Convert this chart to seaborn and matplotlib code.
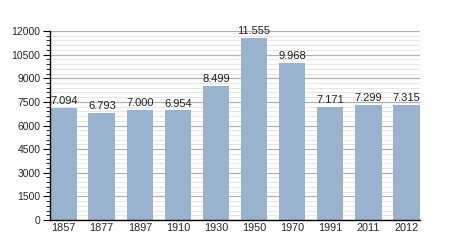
import matplotlib
matplotlib.use("Agg")
import matplotlib.pyplot as plt
from matplotlib.ticker import MultipleLocator
import seaborn as sns
import pandas as pd

years = ["1857", "1877", "1897", "1910", "1930", "1950", "1970", "1991", "2011", "2012"]
population = [7094, 6793, 7000, 6954, 8499, 11555, 9968, 7171, 7299, 7315]
labels = ["7.094", "6.793", "7.000", "6.954", "8.499", "11.555", "9.968", "7.171", "7.299", "7.315"]

sns.set_theme(style="white")
plt.rcParams['font.family'] = ['Liberation Sans', 'DejaVu Sans']

df = pd.DataFrame({"year": years, "pop": population})

fig = plt.figure(figsize=(4.5, 2.5), dpi=100)
ax = fig.add_axes([50/450, 30/250, 370/450, 189/250])

ax.yaxis.set_major_locator(MultipleLocator(1500))
ax.yaxis.set_minor_locator(MultipleLocator(300))
ax.grid(which="minor", axis="y", color="#e6e6e6", linewidth=0.8)
ax.grid(which="major", axis="y", color="#b0b0b0", linewidth=0.9)
ax.set_axisbelow(True)

sns.barplot(data=df, x="year", y="pop", color="#99b3cf", saturation=1, width=0.7,
            edgecolor="none", linewidth=0, ax=ax)

for i, (v, t) in enumerate(zip(population, labels)):
    ax.text(i, v + 120, t, ha="center", va="bottom", fontsize=8, color="#222222")

ax.set_xlim(-0.36, 9.36)
ax.set_ylim(0, 12000)
ax.set_xlabel("")
ax.set_ylabel("")
for s in ["top", "right"]:
    ax.spines[s].set_visible(False)
for s in ["left", "bottom"]:
    ax.spines[s].set_color("black")
    ax.spines[s].set_linewidth(1)
ax.tick_params(axis="y", which="major", left=True, length=5, width=0.8, color="black", labelsize=7.5, pad=2)
ax.tick_params(axis="y", which="minor", left=True, length=3, width=0.6, color="black")
ax.tick_params(axis="x", which="major", bottom=False, length=0, labelsize=7.8, pad=2)

fig.savefig("out.png", dpi=100)
